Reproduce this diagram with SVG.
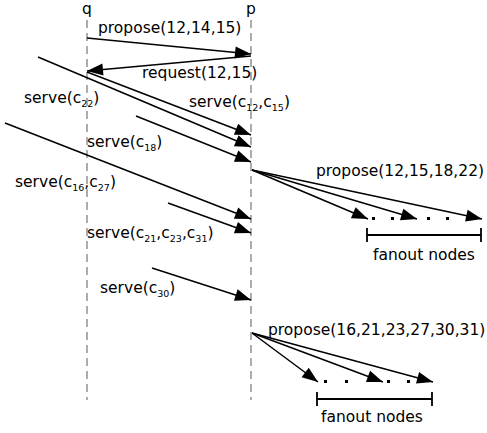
<svg xmlns="http://www.w3.org/2000/svg" width="487" height="433" viewBox="0 0 487 433">
<defs>
<marker id="ah" markerUnits="userSpaceOnUse" markerWidth="16" markerHeight="12" refX="16" refY="6" orient="auto" overflow="visible">
<path d="M0,0 L16,6 L0,12 z" fill="#000"/>
</marker>
<style>
text{font-family:"DejaVu Sans","Liberation Sans",sans-serif;font-size:15.5px;fill:#000}
.sub{font-size:9.5px}
.life{stroke:#999;stroke-width:1.6;stroke-dasharray:8,5;fill:none}
.msg{stroke:#000;stroke-width:1.5;fill:none;marker-end:url(#ah)}
.br{stroke:#000;stroke-width:1.8;fill:none}
.dot{fill:#000}
</style>
</defs>
<rect width="487" height="433" fill="#fff"/>
<g id="q">
<text x="87" y="14" text-anchor="middle">q</text>
<line class="life" x1="87" y1="20" x2="87" y2="400"/>
</g>
<g id="p">
<text x="251" y="14" text-anchor="middle">p</text>
<line class="life" x1="251" y1="20" x2="251" y2="400"/>
</g>
<g id="connectors">
<line class="msg" x1="87" y1="38" x2="251" y2="54"/>
<line class="msg" x1="251" y1="56" x2="87" y2="71"/>
<line class="msg" x1="87" y1="72" x2="251" y2="135"/>
<line class="msg" x1="38" y1="57" x2="251" y2="147"/>
<line class="msg" x1="136" y1="116" x2="251" y2="162"/>
<line class="msg" x1="5" y1="123" x2="251" y2="219"/>
<line class="msg" x1="168" y1="203" x2="251" y2="233"/>
<line class="msg" x1="152" y1="268" x2="251" y2="300"/>
<line class="msg" x1="252" y1="170" x2="368" y2="219"/>
<line class="msg" x1="252" y1="170" x2="417" y2="219"/>
<line class="msg" x1="252" y1="170" x2="482" y2="219"/>
<line class="msg" x1="252" y1="333" x2="318" y2="382"/>
<line class="msg" x1="252" y1="333" x2="383" y2="382"/>
<line class="msg" x1="252" y1="333" x2="433" y2="382"/>
</g>
<g id="labels">
<text x="98" y="33">propose(12,14,15)</text>
<text x="142" y="78">request(12,15)</text>
<text x="24" y="103">serve(c<tspan class="sub" dy="4">22</tspan><tspan dy="-4">)</tspan></text>
<text x="189" y="107">serve(c<tspan class="sub" dy="4">12</tspan><tspan dy="-4">,c</tspan><tspan class="sub" dy="4">15</tspan><tspan dy="-4">)</tspan></text>
<text x="87" y="147">serve(c<tspan class="sub" dy="4">18</tspan><tspan dy="-4">)</tspan></text>
<text x="15" y="187">serve(c<tspan class="sub" dy="4">16</tspan><tspan dy="-4">,c</tspan><tspan class="sub" dy="4">27</tspan><tspan dy="-4">)</tspan></text>
<text x="87" y="238">serve(c<tspan class="sub" dy="4">21</tspan><tspan dy="-4">,c</tspan><tspan class="sub" dy="4">23</tspan><tspan dy="-4">,c</tspan><tspan class="sub" dy="4">31</tspan><tspan dy="-4">)</tspan></text>
<text x="100" y="293">serve(c<tspan class="sub" dy="4">30</tspan><tspan dy="-4">)</tspan></text>
<text x="316" y="176">propose(12,15,18,22)</text>
<text x="268" y="335">propose(16,21,23,27,30,31)</text>
</g>
<g id="fanout1">
<rect class="dot" x="372" y="217" width="3" height="3"/>
<rect class="dot" x="391" y="217" width="3" height="3"/>
<rect class="dot" x="427" y="217" width="3" height="3"/>
<rect class="dot" x="446" y="217" width="3" height="3"/>
<path class="br" d="M367,228 V242 M367,235 H481 M481,228 V242"/>
<text x="424" y="260" text-anchor="middle">fanout nodes</text>
</g>
<g id="fanout2">
<rect class="dot" x="324" y="380" width="3" height="3"/>
<rect class="dot" x="345" y="380" width="3" height="3"/>
<rect class="dot" x="387" y="380" width="3" height="3"/>
<rect class="dot" x="407" y="380" width="3" height="3"/>
<path class="br" d="M317,392 V406 M317,399 H432 M432,392 V406"/>
<text x="372" y="422" text-anchor="middle">fanout nodes</text>
</g>
</svg>
